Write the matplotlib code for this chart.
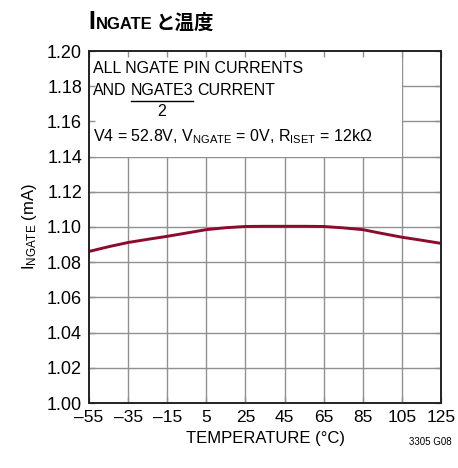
import matplotlib
matplotlib.use("Agg")
import matplotlib.pyplot as plt
from matplotlib.patches import Rectangle

FONT = ["Liberation Sans Narrow", "Liberation Sans", "DejaVu Sans"]
CJK = ["Noto Sans CJK JP", "DejaVu Sans"]
plt.rcParams["font.family"] = FONT
plt.rcParams["mathtext.fontset"] = "custom"
plt.rcParams["mathtext.rm"] = "Liberation Sans"
plt.rcParams["mathtext.it"] = "Liberation Sans"

# I_NGATE vs temperature
temperature = [-55, -45, -35, -25, -15, -5, 5, 15, 25, 35,
               45, 55, 65, 75, 85, 95, 105, 115, 125]
i_ngate = [1.0861, 1.0888, 1.0912, 1.0930, 1.0947, 1.0966, 1.0985, 1.0996, 1.1003, 1.1004,
           1.1004, 1.1004, 1.1003, 1.0995, 1.0985, 1.0963, 1.0942, 1.0925, 1.0907]

x_ticks = [-55, -35, -15, 5, 25, 45, 65, 85, 105, 125]
y_ticks = [1.00, 1.02, 1.04, 1.06, 1.08, 1.10, 1.12, 1.14, 1.16, 1.18, 1.20]

LINE = "#8c0a2c"
GRID = "#909090"

fig = plt.figure(figsize=(4.58, 4.68), dpi=100)
ax = fig.add_axes([89 / 458, 65 / 468, 352 / 458, 352 / 468])

ax.set_xlim(-55, 125)
ax.set_ylim(1.00, 1.20)

# grid drawn by hand so the note box can hide it while the ticks stay on top
for x in x_ticks[1:-1]:
    ax.axvline(x, color=GRID, lw=1.0, zorder=0.5)
for y in y_ticks[1:-1]:
    ax.axhline(y, color=GRID, lw=1.0, zorder=0.5)

ax.add_patch(Rectangle((-55, 1.14), 160, 0.06, facecolor="white",
                       edgecolor="none", zorder=1))

ax.plot(temperature, i_ngate, color=LINE, lw=2.1, zorder=2,
        solid_joinstyle="round")

ax.set_xticks(x_ticks)
ax.set_xticklabels(["\u2013" + str(-t) if t < 0 else str(t) for t in x_ticks])
ax.set_yticks(y_ticks)
ax.set_yticklabels([f"{v:.2f}" for v in y_ticks])
ax.tick_params(direction="in", length=4, width=1, color=GRID,
               top=True, right=True, pad=5)
ax.tick_params(axis="x", labelsize=12.5)
ax.tick_params(axis="y", labelsize=13)
for s in ax.spines.values():
    s.set_linewidth(1.4)
    s.set_color("#222222")

ax.set_xlabel("TEMPERATURE (°C)", fontsize=12, labelpad=4)
ax.set_ylabel(r"I$_{\mathregular{NGATE}}$ (mA)", fontsize=12, labelpad=6)

fig.canvas.draw()
r = fig.canvas.get_renderer()


def after(t, gap=0.0):
    return t.get_window_extent(r).x1 / 458 + gap / 458


# note inside the plot
NS = 11.5
tx = 93 / 458
fig.text(tx, 1 - 73 / 468, "ALL NGATE PIN CURRENTS", fontsize=NS, va="baseline")
a = fig.text(tx, 1 - 95 / 468, "AND", fontsize=NS, va="baseline")
num = fig.text(after(a, 4), 1 - 95 / 468, "NGATE3", fontsize=NS, va="baseline")
fig.text(after(num, 4), 1 - 95 / 468, "CURRENT", fontsize=NS, va="baseline")
nb = num.get_window_extent(r)
fig.add_artist(plt.Line2D([nb.x0 / 458, nb.x1 / 458], [1 - 101 / 468] * 2,
                          color="black", lw=1.0))
fig.text((nb.x0 + nb.x1) / 2 / 458, 1 - 116 / 468, "2", fontsize=NS,
         va="baseline", ha="center")
fig.text(tx, 1 - 141.5 / 468,
         r"V4 = 52.8V, V$_{\mathregular{NGATE}}$ = 0V, R$_{\mathregular{ISET}}$ = 12k$\Omega$",
         fontsize=NS, va="baseline")

# title: I with small-cap NGATE, then Japanese
t1 = fig.text(88 / 458, 1 - 29 / 468, "I", fontsize=18, fontweight="bold",
              va="baseline")
t2 = fig.text(after(t1, 1), 1 - 29 / 468, "NGATE", fontsize=12,
              fontweight="bold", va="baseline")
fig.text(after(t2, 3), 1 - 29 / 468, "と温度", fontsize=14,
         fontweight="bold", va="baseline", family=CJK)

fig.text(430 / 458, 1 - 445 / 468, "3305 G08", fontsize=7, ha="center",
         va="baseline")

fig.savefig("out.png", dpi=100)
